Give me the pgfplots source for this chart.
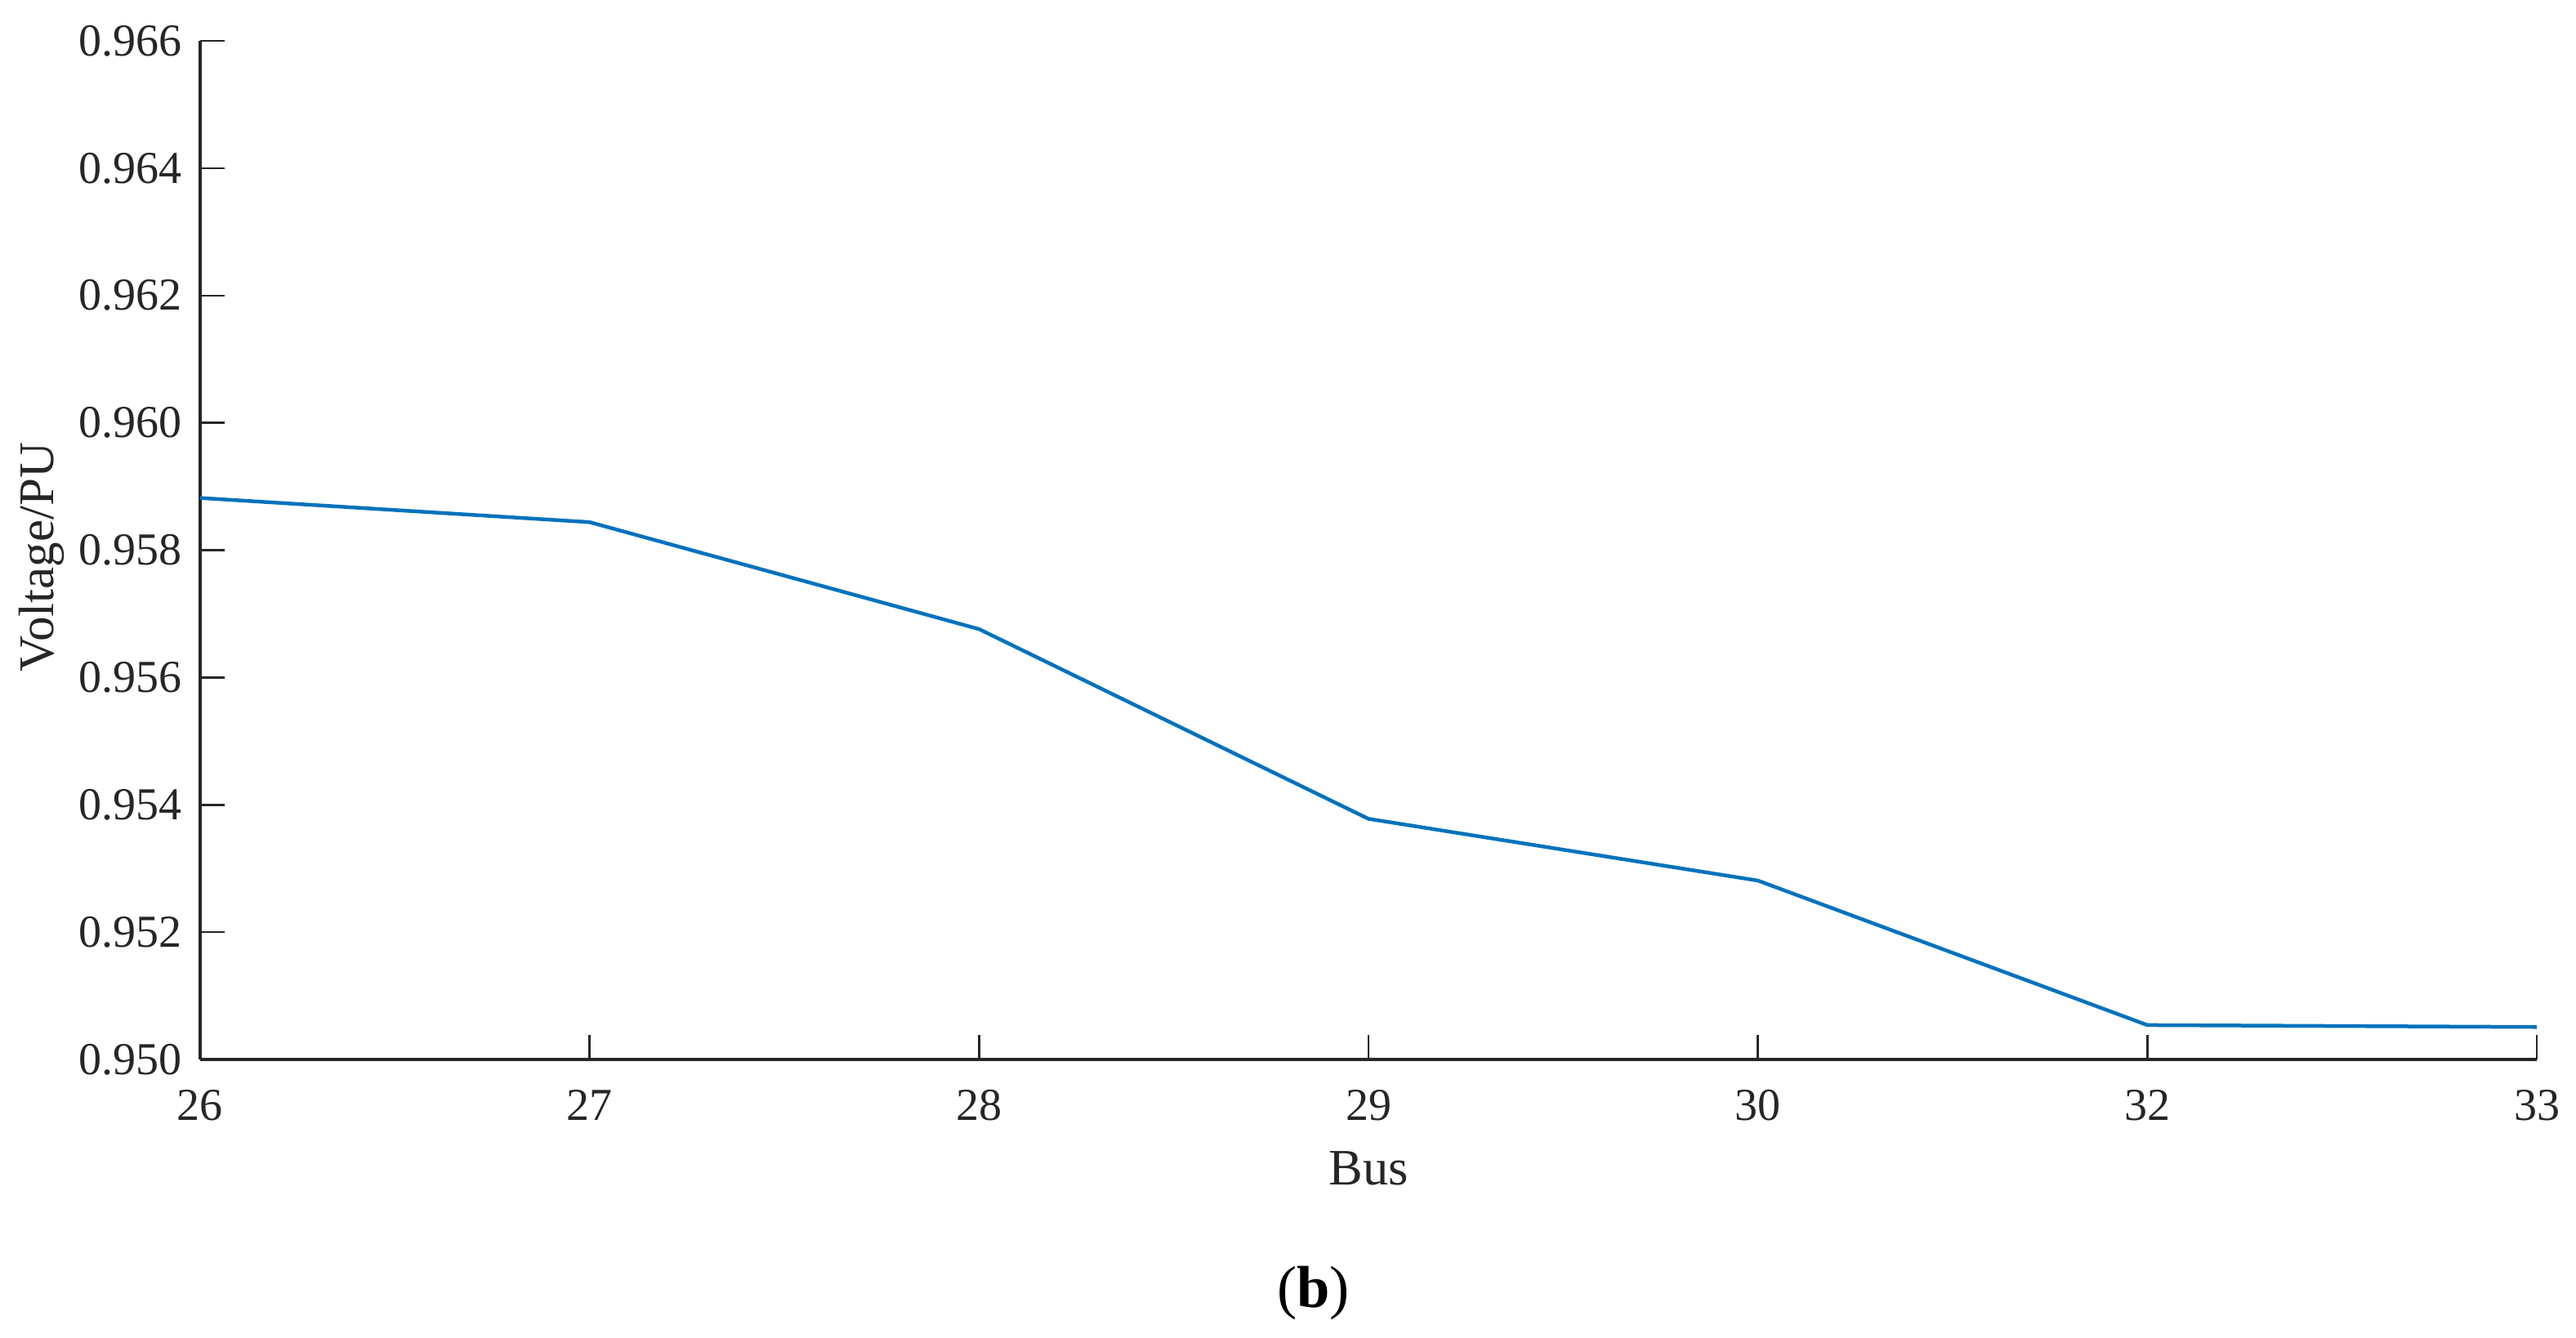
\documentclass[border=0pt]{standalone}
\usepackage{pgfplots}
\pgfplotsset{compat=1.18}
\usepackage{fontspec}
\setmainfont{Liberation Serif}
\definecolor{mblue}{RGB}{0,114,189}
\definecolor{axgray}{RGB}{38,38,38}
\begin{document}
\begin{tikzpicture}
\useasboundingbox (-49pt,-68pt) rectangle (581.6pt,259.4pt);
\begin{axis}[
  at={(0pt,0pt)}, anchor=south west,
  scale only axis,
  width=572pt, height=249.4pt,
  xmin=0, xmax=6, ymin=0.950, ymax=0.966,
  axis lines=left,
  axis line style={-, axgray, line width=0.8pt},
  xtick={0,1,2,3,4,5,6},
  xticklabels={26,27,28,29,30,32,33},
  ytick={0.950,0.952,0.954,0.956,0.958,0.960,0.962,0.964,0.966},
  scaled y ticks=false,
  yticklabel style={/pgf/number format/fixed, /pgf/number format/fixed zerofill, /pgf/number format/precision=3, xshift=-1pt},
  /pgf/number format/assume math mode=true,
  tick style={axgray, line width=0.5pt},
  major tick length=6pt,
  tick align=inside,
  ticklabel style={font=\fontsize{11.2}{13}\selectfont, text=axgray},
  xticklabel style={yshift=-4pt},
  clip=false,
]
\addplot[mblue, line width=0.9pt] coordinates {
  (0,0.95882) (1,0.95844) (2,0.95676) (3,0.95378) (4,0.95281) (5,0.95054) (6,0.95051)
};
\end{axis}
\node[text=axgray, font=\fontsize{12.5}{14}\selectfont] at (286pt,-26.6pt) {Bus};
\node[text=axgray, font=\fontsize{12.2}{14}\selectfont, rotate=90] at (-38.8pt,123pt) {Voltage/PU};
\node[font=\fontsize{14.5}{16}\selectfont] at (272.5pt,-57.2pt) {(\textbf{b})};
\end{tikzpicture}
\end{document}
